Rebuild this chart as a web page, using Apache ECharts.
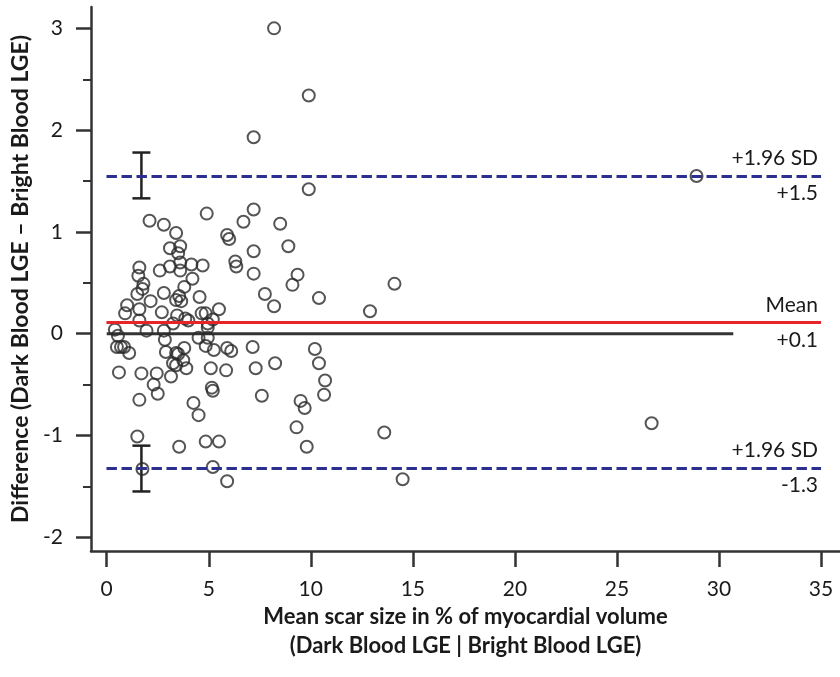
<!DOCTYPE html>
<html>
<head>
<meta charset="utf-8">
<script src="https://cdn.jsdelivr.net/npm/echarts@6/dist/echarts.min.js"></script>
<style>
  html, body { margin: 0; padding: 0; background: #ffffff; }
  #chart { width: 840px; height: 677px; }
</style>
</head>
<body>
<div id="chart"></div>
<script>
// Bland–Altman agreement: dark blood LGE vs bright blood LGE scar size
const meanScar = [
  8.2, 9.9, 7.2, 28.9, 9.9, 26.7, 13.6, 14.5, 14.1, 12.9, 10.4,
  2.1, 2.8, 4.9, 7.2, 6.7, 8.5, 3.4, 5.9, 6.0, 8.9, 3.1, 3.6, 3.5, 7.2,
  1.6, 1.55, 2.6, 3.1, 3.6, 3.6, 4.15, 4.7, 6.3, 6.35, 7.2, 9.35, 9.1, 7.75, 8.2,
  1.8, 1.75, 1.5, 4.2, 3.8, 2.8, 3.55, 3.4, 3.65, 4.55, 2.15,
  1.0, 0.9, 1.6, 2.7, 3.45, 3.25, 3.85, 4.0, 4.65, 4.85, 5.5, 4.95, 5.2,
  1.6, 1.95, 2.8, 0.4, 4.95, 0.55, 0.5, 0.7, 0.85, 1.1,
  2.85, 2.9, 3.4, 3.8, 3.75, 3.25, 3.4, 3.9, 3.15, 3.5,
  4.5, 4.95, 4.85, 5.25, 5.9, 6.1, 7.15,
  0.6, 1.7, 2.45, 2.3, 2.5, 5.1, 5.85, 7.3, 8.25,
  1.6, 5.15, 5.2, 4.25, 4.5, 7.6, 9.5, 9.7, 9.3, 9.8,
  10.2, 10.4, 10.7, 10.65,
  1.5, 3.55, 4.85, 5.5, 1.75, 5.2, 5.9
];
const difference = [
  3.0, 2.34, 1.93, 1.55, 1.42, -0.88, -0.97, -1.43, 0.49, 0.22, 0.35,
  1.11, 1.07, 1.18, 1.22, 1.10, 1.08, 0.99, 0.97, 0.93, 0.86, 0.84, 0.86, 0.79, 0.81,
  0.65, 0.57, 0.62, 0.66, 0.70, 0.62, 0.68, 0.67, 0.71, 0.66, 0.59, 0.58, 0.48, 0.39, 0.27,
  0.49, 0.44, 0.39, 0.54, 0.46, 0.40, 0.37, 0.33, 0.32, 0.36, 0.32,
  0.28, 0.20, 0.24, 0.21, 0.18, 0.10, 0.15, 0.13, 0.20, 0.20, 0.24, 0.10, 0.14,
  0.13, 0.03, 0.03, 0.04, 0.06, -0.02, -0.13, -0.13, -0.13, -0.19,
  -0.06, -0.18, -0.19, -0.14, -0.26, -0.29, -0.31, -0.34, -0.42, -0.20,
  -0.04, -0.04, -0.12, -0.16, -0.14, -0.17, -0.13,
  -0.38, -0.39, -0.39, -0.50, -0.59, -0.34, -0.36, -0.34, -0.29,
  -0.65, -0.53, -0.56, -0.68, -0.80, -0.61, -0.66, -0.73, -0.92, -1.11,
  -0.15, -0.29, -0.46, -0.60,
  -1.01, -1.11, -1.06, -1.06, -1.33, -1.31, -1.45
];

// Agreement statistics
const meanBias = 0.11;
const upperLimit = 1.55;
const lowerLimit = -1.32;
const lineSpan = [0, 35];
const zeroSpan = [0, 30.7];

// 95% confidence intervals of the limits: [x, low, high]
const limitCI = [
  [1.7, 1.33, 1.78],
  [1.7, -1.55, -1.10]
];

// Axis ranges and tick values
const xRange = [-0.77, 35.93];
const yRange = [-2.135, 3.21];
const xTicks = [0, 5, 10, 15, 20, 25, 30, 35];
const yTicks = [-2, -1, 0, 1, 2, 3];
const yMinorTicks = [-1.5, -0.5, 0.5, 1.5, 2.5];

// Line annotations
const upperLabels = ['+1.96 SD', '+1.5'];
const meanLabels = ['Mean', '+0.1'];
const lowerLabels = ['+1.96 SD', '-1.3'];

const FONT = 'Lato';
const TEXT = '#1a1a1a';
const AXIS = '#333333';

const points = meanScar.map((m, i) => [m, difference[i]]);

function hLine(value, span) {
  return [[span[0], value], [span[1], value]];
}

function labelledLine(value, labels, lineStyle) {
  const base = { coord: [lineSpan[0], value] };
  const end = { coord: [lineSpan[1], value] };
  const lab = (txt, pos) => ({
    show: true, position: pos, formatter: txt, distance: [3, 7],
    fontFamily: FONT, fontSize: 21, color: TEXT
  });
  return [
    [Object.assign({}, base, { label: lab(labels[0], 'insideEndTop'), lineStyle }), end],
    [Object.assign({}, base, { label: lab(labels[1], 'insideEndBottom'), lineStyle }), end]
  ];
}

const chart = echarts.init(document.getElementById('chart'), null, { renderer: 'canvas' });

const dashStyle = { color: '#2b2f8f', width: 3, type: [10, 5] };
const meanStyle = { color: '#e8232a', width: 3, type: 'solid' };

chart.setOption({
  animation: false,
  backgroundColor: '#ffffff',
  grid: { left: 91, right: 0, top: 7, bottom: 126, containLabel: false },
  xAxis: {
    type: 'value',
    min: xRange[0],
    max: xRange[1],
    splitLine: { show: false },
    axisLine: { show: true, onZero: false, lineStyle: { color: AXIS, width: 2.5 } },
    axisTick: { show: true, customValues: xTicks, length: 16, lineStyle: { color: AXIS, width: 2.5 } },
    axisLabel: {
      customValues: xTicks, margin: 28,
      fontFamily: FONT, fontSize: 21, color: TEXT
    },
    name: 'Mean scar size in % of myocardial volume\n(Dark Blood LGE | Bright Blood LGE)',
    nameLocation: 'middle',
    nameGap: 51,
    nameMoveOverlap: false,
    nameTextStyle: {
      fontFamily: FONT, fontSize: 22, fontWeight: 'bold', color: TEXT, lineHeight: 29
    }
  },
  yAxis: [
    {
      type: 'value',
      min: yRange[0],
      max: yRange[1],
      splitLine: { show: false },
      axisLine: { show: true, onZero: false, lineStyle: { color: AXIS, width: 2.5 } },
      axisTick: { show: true, customValues: yTicks, length: 15, lineStyle: { color: AXIS, width: 2.5 } },
      axisLabel: {
        customValues: yTicks, margin: 28,
        fontFamily: FONT, fontSize: 21, color: TEXT
      },
      name: 'Difference (Dark Blood LGE \u2013 Bright Blood LGE)',
      nameLocation: 'middle',
      nameGap: 56,
      nameTextStyle: { fontFamily: FONT, fontSize: 23, fontWeight: 'bold', color: TEXT }
    },
    {
      // half-unit minor ticks sharing the left axis line
      type: 'value',
      min: yRange[0],
      max: yRange[1],
      position: 'left',
      offset: 0,
      splitLine: { show: false },
      axisLine: { show: false, onZero: false },
      axisTick: { show: true, inside: false, customValues: yMinorTicks, length: 8, lineStyle: { color: AXIS, width: 2 } },
      axisLabel: { show: false }
    }
  ],
  series: [
    {
      name: 'zero',
      type: 'line',
      data: hLine(0, zeroSpan),
      symbol: 'none',
      lineStyle: { color: '#333333', width: 3 },
      silent: true, z: 1
    },
    {
      name: 'limits',
      type: 'line',
      data: [],
      markLine: {
        silent: true,
        symbol: 'none',
        data: [].concat(
          labelledLine(upperLimit, upperLabels, dashStyle),
          labelledLine(meanBias, meanLabels, meanStyle),
          labelledLine(lowerLimit, lowerLabels, dashStyle)
        )
      },
      z: 2
    },
    {
      name: 'ci',
      type: 'custom',
      data: limitCI,
      renderItem: function (params, api) {
        const x = api.value(0);
        const lo = api.coord([x, api.value(1)]);
        const hi = api.coord([x, api.value(2)]);
        const cap = 9;
        const style = { stroke: '#222222', lineWidth: 2.5 };
        return {
          type: 'group',
          children: [
            { type: 'line', shape: { x1: lo[0], y1: lo[1], x2: hi[0], y2: hi[1] }, style },
            { type: 'line', shape: { x1: lo[0] - cap, y1: lo[1], x2: lo[0] + cap, y2: lo[1] }, style },
            { type: 'line', shape: { x1: hi[0] - cap, y1: hi[1], x2: hi[0] + cap, y2: hi[1] }, style }
          ]
        };
      },
      silent: true, z: 3
    },
    {
      name: 'cases',
      type: 'scatter',
      data: points,
      symbol: 'circle',
      symbolSize: 12,
      itemStyle: { color: 'rgba(255,255,255,0)', borderColor: '#2a2a2a', borderWidth: 2 },
      silent: true, z: 4
    }
  ]
});
</script>
</body>
</html>
